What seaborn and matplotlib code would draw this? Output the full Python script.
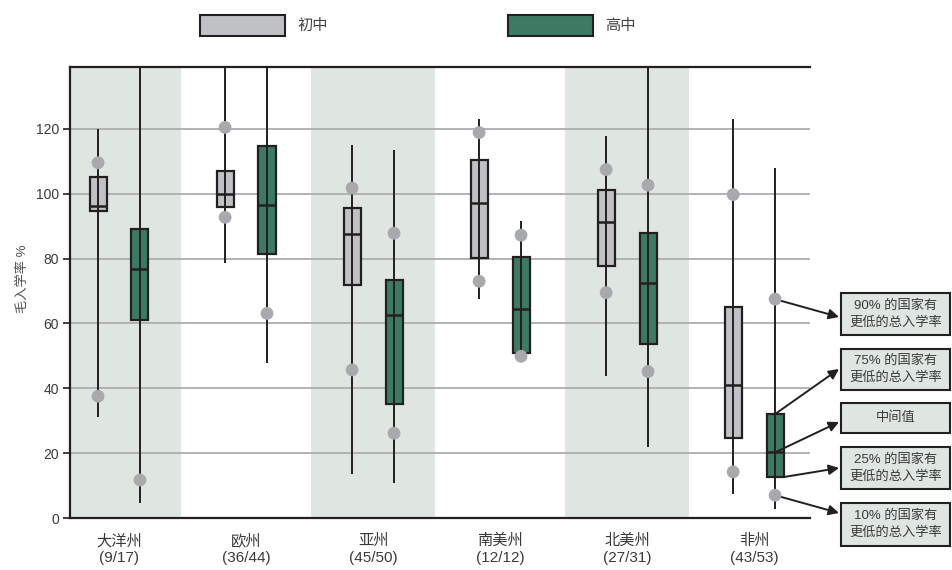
import numpy as np
import pandas as pd
import matplotlib
matplotlib.use('Agg')
import matplotlib.pyplot as plt
import seaborn as sns
from matplotlib.patches import Patch, Rectangle

regions = ['大洋州', '欧州', '亚州', '南美州', '北美州', '非州']
counts = ['(9/17)', '(36/44)', '(45/50)', '(12/12)', '(27/31)', '(43/53)']
levels = ['初中', '高中']

# 初中
low_min = [31.3, 78.5, 13.5, 67.4, 43.8, 7.5]
low_p10 = [37.6, 92.7, 45.7, 73.0, 69.5, 14.3]
low_q1 = [94.7, 95.8, 71.8, 80.3, 77.7, 24.8]
low_med = [96.1, 100.0, 87.6, 97.1, 91.4, 41.2]
low_q3 = [105.1, 107.0, 95.6, 110.5, 101.2, 65.0]
low_p90 = [109.5, 120.4, 101.7, 118.8, 107.4, 99.7]
low_max = [119.8, 150.0, 114.9, 123.1, 117.7, 123.1]

# 高中
up_min = [4.6, 47.9, 10.8, 49.5, 22.0, 2.8]
up_p10 = [11.8, 63.1, 26.2, 49.9, 45.2, 7.1]
up_q1 = [61.0, 81.5, 35.1, 50.8, 53.8, 12.7]
up_med = [76.9, 96.6, 62.5, 64.6, 72.6, 20.3]
up_q3 = [89.0, 114.6, 73.5, 80.5, 87.9, 32.1]
up_p90 = [np.nan, np.nan, 87.8, 87.2, 102.6, 67.5]
up_max = [150.0, 150.0, 113.3, 91.6, 150.0, 108.0]

ann_texts = ['90% 的国家有\n更低的总入学率', '75% 的国家有\n更低的总入学率', '中间值',
             '25% 的国家有\n更低的总入学率', '10% 的国家有\n更低的总入学率']

GRAY = '#c0c1c5'
GREEN = '#3d7a64'
DARK = '#231f20'
BAND = '#dfe6e2'
DOT = '#a7a9ac'
GRID = '#abadb0'
TXT = '#3a3a3a'

plt.rcParams['font.family'] = ['Liberation Sans', 'Noto Sans CJK SC', 'DejaVu Sans']

offsets = {'初中': -0.165, '高中': 0.165}
stats = {
    '初中': dict(mn=low_min, q1=low_q1, med=low_med, q3=low_q3, mx=low_max, p10=low_p10, p90=low_p90),
    '高中': dict(mn=up_min, q1=up_q1, med=up_med, q3=up_q3, mx=up_max, p10=up_p10, p90=up_p90),
}

box_rows, dot_rows, seg_rows = [], [], []
for lvl in levels:
    s = stats[lvl]
    for i in range(len(regions)):
        pos = i + offsets[lvl]
        for key in ('mn', 'q1', 'med', 'q3', 'mx'):
            box_rows.append({'pos': pos, 'level': lvl, 'rate': s[key][i]})
        for key in ('p10', 'p90'):
            dot_rows.append({'pos': pos, 'level': lvl, 'rate': s[key][i]})
        seg_rows.append({'pos': pos, 'q1': s['q1'][i], 'q3': s['q3'][i]})
box_df = pd.DataFrame(box_rows)
dot_df = pd.DataFrame(dot_rows).dropna()
seg_df = pd.DataFrame(seg_rows)

fig = plt.figure(figsize=(9.52, 5.7), dpi=100)
ax = fig.add_axes([70 / 952, 1 - 518.3 / 570, 740 / 952, (518.3 - 67) / 570])

for i in (0, 2, 4):
    ax.axvspan(i - 0.49, i + 0.49, color=BAND, lw=0, zorder=0.1)

sns.boxplot(data=box_df, x='pos', y='rate', hue='level', hue_order=levels,
            palette=[GRAY, GREEN], saturation=1, native_scale=True, dodge=False,
            orient='x', whis=(0, 100), width=0.406, showcaps=False, fliersize=0,
            linecolor=DARK, linewidth=1.6,
            medianprops=dict(color=DARK, linewidth=1.8),
            whiskerprops=dict(color=DARK, linewidth=1.4),
            legend=False, ax=ax)
ax.vlines(seg_df['pos'], seg_df['q1'], seg_df['q3'], color=DARK, lw=1.4, zorder=2.5)
sns.scatterplot(data=dot_df, x='pos', y='rate', color=DOT, s=85, edgecolor='none',
                zorder=4, legend=False, ax=ax)

ax.set_xlim(-0.386, 5.44)
ax.set_ylim(0, 139)
ax.set_yticks(range(0, 121, 20))
ax.set_xticks(range(len(regions)))
ax.set_xticklabels([f'{r}\n{c}' for r, c in zip(regions, counts)], fontsize=11, color=TXT,
                   linespacing=1.25)
ax.tick_params(axis='x', length=0, pad=11)
ax.tick_params(axis='y', length=5, width=1.2, color=DARK, labelsize=10, labelcolor=TXT, pad=3)
ax.set_xlabel('')
ax.set_ylabel('毛入学率 %', fontsize=9.5, color='#505050')
ax.yaxis.set_label_coords(-0.056, 0.53)

ax.yaxis.grid(True, color=GRID, lw=1.3)
ax.xaxis.grid(False)
ax.set_axisbelow(True)
ax.set_facecolor('white')
for side in ('left', 'top', 'bottom'):
    ax.spines[side].set_color(DARK)
    ax.spines[side].set_linewidth(1.6)
ax.spines['right'].set_visible(False)

# legend
handles = [Patch(facecolor=GRAY, edgecolor=DARK, lw=1.5), Patch(facecolor=GREEN, edgecolor=DARK, lw=1.5)]
leg = fig.legend(handles=handles, labels=levels, loc='upper left',
                 bbox_to_anchor=(200 / 952, 1 - 15 / 570),
                 ncol=2, frameon=False, handlelength=5.56, handleheight=1.7, handletextpad=0.8,
                 columnspacing=11.8, borderpad=0, borderaxespad=0, fontsize=11)
for t in leg.get_texts():
    t.set_color('#444444')

# explanation boxes and arrows
W, H = 952, 570
boxes_px = [(293, 335), (349, 390), (403, 433), (447, 489), (503, 546)]
for (y0, y1), txt in zip(boxes_px, ann_texts):
    fig.add_artist(Rectangle((841 / W, 1 - y1 / H), 109 / W, (y1 - y0) / H, transform=fig.transFigure,
                             facecolor=BAND, edgecolor=DARK, lw=1.5))
    fig.text(895.5 / W, 1 - (y0 + y1) / 2 / H, txt, ha='center', va='center', fontsize=9.5,
             color=TXT, linespacing=1.45)

s = stats['高中']
gx = 5 + offsets['高中']
tails = [(gx, s['p90'][5]), (gx, s['q3'][5]), (gx, s['med'][5]), (gx + 0.067, s['q1'][5]), (gx, s['p10'][5])]
tips = [317, 369, 422, 468, 513]
for (tx, ty), tip in zip(tails, tips):
    ax.annotate('', xy=(839, H - tip), xycoords='figure pixels', xytext=(tx, ty), textcoords='data',
                arrowprops=dict(arrowstyle='-|>', color=DARK, lw=1.4, mutation_scale=15,
                                shrinkA=0, shrinkB=0),
                annotation_clip=False, zorder=3)

fig.savefig('out.png', dpi=100)
